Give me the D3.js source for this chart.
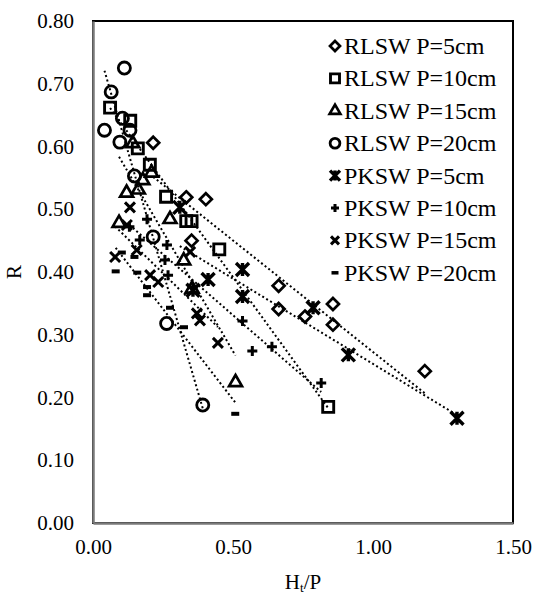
<!DOCTYPE html>
<html>
<head>
<meta charset="utf-8">
<script src="https://cdn.jsdelivr.net/npm/d3@7"></script>
<style>
  body { margin: 0; background: #fff; }
  text { font-family: "Liberation Serif", "Times New Roman", serif; fill: #000; }
</style>
</head>
<body>
<div id="chart"></div>
<script>
var width = 534;
var height = 594;
var serif = "Liberation Serif, Times New Roman, serif";

// series names, in legend order
var seriesNames = ["RLSW P=5cm", "RLSW P=10cm", "RLSW P=15cm", "RLSW P=20cm",
                   "PKSW P=5cm", "PKSW P=10cm", "PKSW P=15cm", "PKSW P=20cm"];

// Ht/P (x) and R (y) values per series
var rlsw5X  = [0.215, 0.333, 0.403, 0.352, 0.663, 0.663, 0.757, 0.857, 0.857, 1.185];
var rlsw5Y  = [0.606, 0.519, 0.516, 0.450, 0.378, 0.341, 0.329, 0.349, 0.316, 0.242];
var rlsw10X = [0.061, 0.133, 0.160, 0.203, 0.261, 0.333, 0.352, 0.451, 0.840];
var rlsw10Y = [0.662, 0.641, 0.597, 0.571, 0.520, 0.481, 0.481, 0.436, 0.185];
var rlsw15X = [0.142, 0.178, 0.209, 0.120, 0.162, 0.093, 0.275, 0.324, 0.354, 0.509];
var rlsw15Y = [0.605, 0.546, 0.558, 0.526, 0.531, 0.478, 0.484, 0.418, 0.373, 0.224];
var rlsw20X = [0.041, 0.065, 0.112, 0.105, 0.096, 0.132, 0.148, 0.215, 0.263, 0.392];
var rlsw20Y = [0.626, 0.687, 0.725, 0.645, 0.607, 0.626, 0.553, 0.456, 0.318, 0.188];
var pksw5X  = [0.310, 0.357, 0.411, 0.534, 0.534, 0.786, 0.912, 1.300];
var pksw5Y  = [0.503, 0.371, 0.388, 0.404, 0.361, 0.343, 0.268, 0.167];
var pksw10X = [0.130, 0.193, 0.167, 0.264, 0.257, 0.268, 0.534, 0.569, 0.639, 0.815];
var pksw10Y = [0.472, 0.484, 0.451, 0.443, 0.419, 0.395, 0.322, 0.274, 0.281, 0.223];
var pksw15X = [0.079, 0.132, 0.121, 0.156, 0.204, 0.233, 0.347, 0.371, 0.382, 0.446];
var pksw15Y = [0.424, 0.503, 0.475, 0.435, 0.395, 0.384, 0.432, 0.334, 0.323, 0.287];
var pksw20X = [0.081, 0.103, 0.148, 0.158, 0.193, 0.193, 0.275, 0.325, 0.508];
var pksw20Y = [0.401, 0.431, 0.424, 0.399, 0.376, 0.363, 0.343, 0.312, 0.174];

var xTicks = [0, 0.5, 1.0, 1.5];
var yTicks = [0, 0.1, 0.2, 0.3, 0.4, 0.5, 0.6, 0.7, 0.8];

// custom marker shapes for d3.symbol
var starSym = {
    draw: function (ctx, size) {
        var r = Math.sqrt(size) / 2;
        ctx.moveTo(-r, -r); ctx.lineTo(r, r);
        ctx.moveTo(-r, r); ctx.lineTo(r, -r);
        ctx.moveTo(0, -r); ctx.lineTo(0, r);
    }
};
var crossSym = {
    draw: function (ctx, size) {
        var r = Math.sqrt(size) / 2;
        ctx.moveTo(-r, 0); ctx.lineTo(r, 0);
        ctx.moveTo(0, -r); ctx.lineTo(0, r);
    }
};
var timesSym = {
    draw: function (ctx, size) {
        var r = Math.sqrt(size) / 2;
        ctx.moveTo(-r, -r); ctx.lineTo(r, r);
        ctx.moveTo(-r, r); ctx.lineTo(r, -r);
    }
};
var dashSym = {
    draw: function (ctx, size) {
        var r = Math.sqrt(size) / 2;
        ctx.rect(-r, -r * 0.5, 2 * r, r);
    }
};
var diamondSym = {
    draw: function (ctx, size) {
        var r = Math.sqrt(size) / 2;
        ctx.moveTo(0, -r); ctx.lineTo(r, 0); ctx.lineTo(0, r); ctx.lineTo(-r, 0); ctx.closePath();
    }
};

var series = [
    { x: rlsw5X,  y: rlsw5Y,  type: diamondSym,       size: 12 * 12, lsize: 10 * 10, fill: false, sw: 2.7 },
    { x: rlsw10X, y: rlsw10Y, type: d3.symbolSquare,  size: 11 * 11, lsize: 9 * 9,   fill: false, sw: 2.9 },
    { x: rlsw15X, y: rlsw15Y, type: d3.symbolTriangle,size: 72,      lsize: 50,      fill: false, sw: 2.7 },
    { x: rlsw20X, y: rlsw20Y, type: d3.symbolCircle,  size: 115,     lsize: 75,      fill: false, sw: 2.8 },
    { x: pksw5X,  y: pksw5Y,  type: starSym,          size: 13 * 13, lsize: 10 * 10, fill: false, sw: 3.4 },
    { x: pksw10X, y: pksw10Y, type: crossSym,         size: 10 * 10, lsize: 8 * 8,   fill: false, sw: 3 },
    { x: pksw15X, y: pksw15Y, type: timesSym,         size: 10 * 10, lsize: 8 * 8,   fill: false, sw: 3 },
    { x: pksw20X, y: pksw20Y, type: dashSym,          size: 8 * 8,   lsize: 7 * 7,   fill: true,  sw: 0 }
];

var margin = { left: 93, right: 21, top: 21, bottom: 71 };

var svg = d3.select("#chart").append("svg")
    .attr("width", width)
    .attr("height", height);

var x = d3.scaleLinear().domain([0, 1.5]).range([margin.left, width - margin.right]);
var y = d3.scaleLinear().domain([0, 0.8]).range([height - margin.bottom, margin.top]);

// plot area frame
svg.append("rect")
    .attr("x", x(0)).attr("y", y(0.8))
    .attr("width", x(1.5) - x(0)).attr("height", y(0) - y(0.8))
    .attr("fill", "none").attr("stroke", "#000").attr("stroke-width", 2);

// axes
var xAxis = svg.append("g")
    .attr("transform", "translate(0," + y(0) + ")")
    .call(d3.axisBottom(x).tickValues(xTicks).tickFormat(d3.format(".2f")).tickSize(0).tickPadding(16));
var yAxis = svg.append("g")
    .attr("transform", "translate(" + x(0) + ",0)")
    .call(d3.axisLeft(y).tickValues(yTicks).tickFormat(d3.format(".2f")).tickSize(0).tickPadding(19));

[xAxis, yAxis].forEach(function (g) {
    g.attr("font-family", serif).attr("font-size", 21);
    g.select(".domain").attr("stroke", "#7a7a7a").attr("stroke-width", 2.5);
    g.selectAll("text").style("font-family", serif).style("font-size", "21px").attr("fill", "#000");
});

// trendlines (least-squares linear fit per series)
function linearFit(xs, ys) {
    var n = xs.length, mx = d3.mean(xs), my = d3.mean(ys), sxy = 0, sxx = 0;
    for (var i = 0; i < n; i++) {
        sxy += (xs[i] - mx) * (ys[i] - my);
        sxx += (xs[i] - mx) * (xs[i] - mx);
    }
    var b = sxy / sxx;
    return function (v) { return my + b * (v - mx); };
}

var line = d3.line().x(function (d) { return x(d[0]); }).y(function (d) { return y(d[1]); });

series.forEach(function (s) {
    var f = linearFit(s.x, s.y);
    var ext = d3.extent(s.x);
    svg.append("path")
        .attr("d", line([[ext[0], f(ext[0])], [ext[1], f(ext[1])]]))
        .attr("fill", "none")
        .attr("stroke", "#000")
        .attr("stroke-width", 2)
        .attr("stroke-dasharray", "2,2.6");
});

// markers
series.forEach(function (s) {
    var sym = d3.symbol().type(s.type).size(s.size);
    svg.append("g").selectAll("path")
        .data(d3.zip(s.x, s.y))
        .join("path")
        .attr("transform", function (d) { return "translate(" + x(d[0]) + "," + y(d[1]) + ")"; })
        .attr("d", sym)
        .attr("fill", s.fill ? "#000" : "none")
        .attr("stroke", s.fill ? "none" : "#000")
        .attr("stroke-width", s.sw)
        .attr("stroke-linejoin", "miter");
});

// legend
var legend = svg.append("g").attr("transform", "translate(335,46)");
series.forEach(function (s, i) {
    var row = legend.append("g").attr("transform", "translate(0," + (i * 32.4) + ")");
    row.append("path")
        .attr("d", d3.symbol().type(s.type).size(s.lsize))
        .attr("fill", s.fill ? "#000" : "none")
        .attr("stroke", s.fill ? "none" : "#000")
        .attr("stroke-width", s.sw);
    row.append("text")
        .attr("x", 9)
        .attr("y", 8)
        .style("font-size", "24px")
        .text(seriesNames[i]);
});

// axis titles
svg.append("text")
    .attr("transform", "translate(21," + ((y(0) + y(0.8)) / 2) + ") rotate(-90)")
    .attr("text-anchor", "middle")
    .style("font-size", "21px")
    .text("R");

var xt = svg.append("text")
    .attr("x", (x(0) + x(1.5)) / 2)
    .attr("y", 589)
    .attr("text-anchor", "middle")
    .style("font-size", "21px");
xt.append("tspan").text("H");
xt.append("tspan").attr("dy", 3).style("font-size", "13px").text("t");
xt.append("tspan").attr("dy", -3).text("/P");
</script>
</body>
</html>
